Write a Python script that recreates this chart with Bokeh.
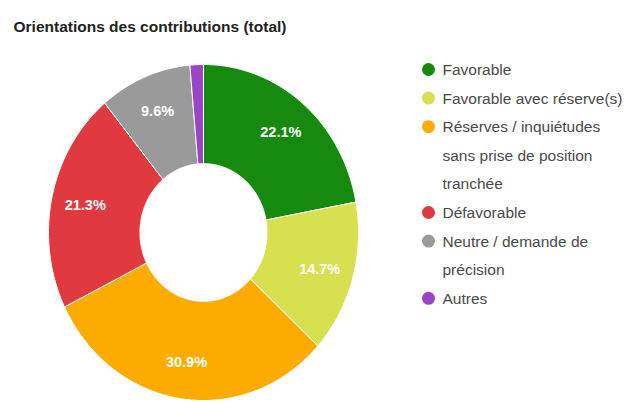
import numpy as np
from bokeh.plotting import figure
from bokeh.models import Range1d
from bokeh.core.properties import value
from bokeh.embed import file_html
from bokeh.resources import INLINE

title = "Orientations des contributions (total)"
categories = ["Favorable", "Favorable avec réserve(s)",
              "Réserves / inquiétudes sans prise de position tranchée",
              "Défavorable", "Neutre / demande de précision", "Autres"]
legend_lines = [["Favorable"], ["Favorable avec réserve(s)"],
                ["Réserves / inquiétudes", "sans prise de position", "tranchée"],
                ["Défavorable"], ["Neutre / demande de", "précision"], ["Autres"]]
percent = [22.1, 14.7, 30.9, 21.3, 9.6, 1.4]
colors = ["#158a0e", "#d7e04e", "#fcab00", "#e03a40", "#9a9a9a", "#9a45c8"]

W, H = 627, 403
CX, CY, RX, RY = 203, 232, 155, 168
INNER = 0.41
LABEL_R = 0.78
FONT = "Liberation Sans"

p = figure(width=W, height=H, output_backend="svg", toolbar_location=None,
           x_range=Range1d(0, W), y_range=Range1d(H, 0), min_border=0)
p.axis.visible = False
p.grid.visible = False
p.outline_line_color = None
p.background_fill_color = "white"

vals = np.array(percent, dtype=float)
frac = vals / vals.sum()
cum = np.concatenate([[0], np.cumsum(frac)])
xs, ys = [], []
lx, ly, ltxt = [], [], []
for i in range(len(vals)):
    a0 = np.pi / 2 - 2 * np.pi * cum[i]
    a1 = np.pi / 2 - 2 * np.pi * cum[i + 1]
    n = max(8, int(frac[i] * 400))
    t = np.linspace(a0, a1, n)
    ox = CX + RX * np.cos(t)
    oy = CY - RY * np.sin(t)
    ix = CX + RX * INNER * np.cos(t[::-1])
    iy = CY - RY * INNER * np.sin(t[::-1])
    xs.append(list(np.concatenate([ox, ix])))
    ys.append(list(np.concatenate([oy, iy])))
    if frac[i] > 0.05:
        am = (a0 + a1) / 2
        lx.append(CX + LABEL_R * RX * np.cos(am))
        ly.append(CY - LABEL_R * RY * np.sin(am))
        ltxt.append(f"{percent[i]:.1f}%")

p.patches(xs=xs, ys=ys, fill_color=colors, line_color="white", line_width=1)
p.text(x=lx, y=ly, text=ltxt, text_color="white", text_font=value(FONT),
       text_font_size="14.5px", text_font_style="bold",
       text_align="center", text_baseline="middle")

p.text(x=[13], y=[26], text=[title], text_color="#222222", text_font=value(FONT),
       text_font_size="15.5px", text_font_style="bold", text_baseline="middle")

LEG_X, LEG_Y0, LEG_DY = 428, 69, 28.6
cx, cy, cc = [], [], []
tx, ty, tt = [], [], []
line = 0
for i, lines in enumerate(legend_lines):
    cx.append(LEG_X)
    cy.append(LEG_Y0 + line * LEG_DY)
    cc.append(colors[i])
    for s in lines:
        tx.append(LEG_X + 14)
        ty.append(LEG_Y0 + line * LEG_DY)
        tt.append(s)
        line += 1

p.scatter(x=cx, y=cy, size=13, fill_color=cc, line_color=None)
p.text(x=tx, y=ty, text=tt, text_color="#4a4a4a", text_font=value(FONT),
       text_font_size="15.5px", text_baseline="middle")

open("out.html", "w").write(file_html(p, INLINE))
